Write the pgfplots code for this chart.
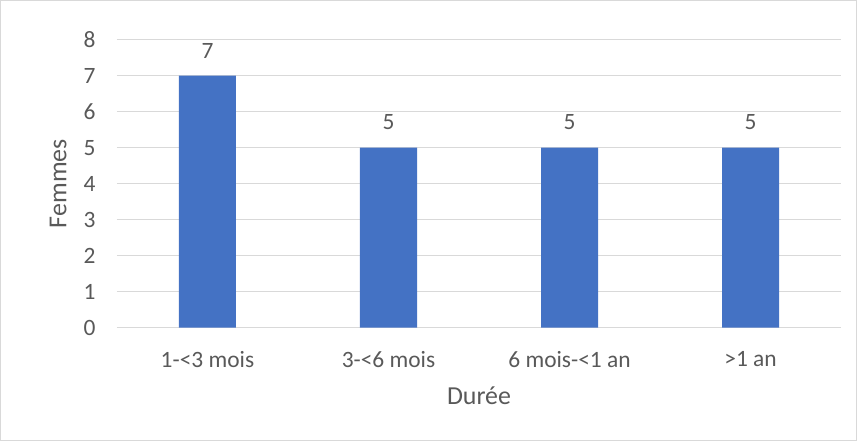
\documentclass[border=0pt]{standalone}
\usepackage{pgfplots}
\pgfplotsset{compat=1.18}
\usepackage{fontspec}
\setmainfont{Carlito}
\definecolor{barblue}{HTML}{4472C4}
\definecolor{txtgray}{HTML}{595959}
\definecolor{gridgray}{HTML}{D9D9D9}
\begin{document}
\begin{tikzpicture}[x=1bp,y=1bp]
% outer frame of the chart
\draw[gridgray, line width=0.8bp] (-116.5,-112.8) rectangle (739.5,327.2);
\begin{axis}[
    at={(0,0)}, anchor=south west,
    scale only axis,
    width=724bp, height=288bp,
    ybar, bar width=57bp,
    xmin=-0.5, xmax=3.5,
    ymin=0, ymax=8,
    xtick=data,
    xticklabels={1-<3 mois, 3-<6 mois, 6 mois-<1 an, >1 an},
    ytick={0,1,...,8},
    axis lines*=left,
    x axis line style={gridgray, line width=1.2bp},
    y axis line style={draw=none},
    ymajorgrids,
    grid style={gridgray, line width=1bp},
    tick style={draw=none},
    tick label style={font=\fontsize{23.5}{26}\selectfont, text=txtgray},
    /pgf/number format/assume math mode=true,
    yticklabel style={anchor=east, xshift=-18bp},
    xticklabel style={anchor=north, yshift=-16bp},
    label style={font=\fontsize{26}{28}\selectfont, text=txtgray},
    xlabel={Durée},
    ylabel={Femmes},
    xlabel style={yshift=-12bp},
    ylabel style={yshift=10bp},
    nodes near coords,
    nodes near coords style={font=\fontsize{23.5}{26}\selectfont, text=txtgray, yshift=14bp},
    clip=false,
]
\addplot[fill=barblue, draw=none] coordinates {(0,7) (1,5) (2,5) (3,5)};
\end{axis}
\end{tikzpicture}
\end{document}
